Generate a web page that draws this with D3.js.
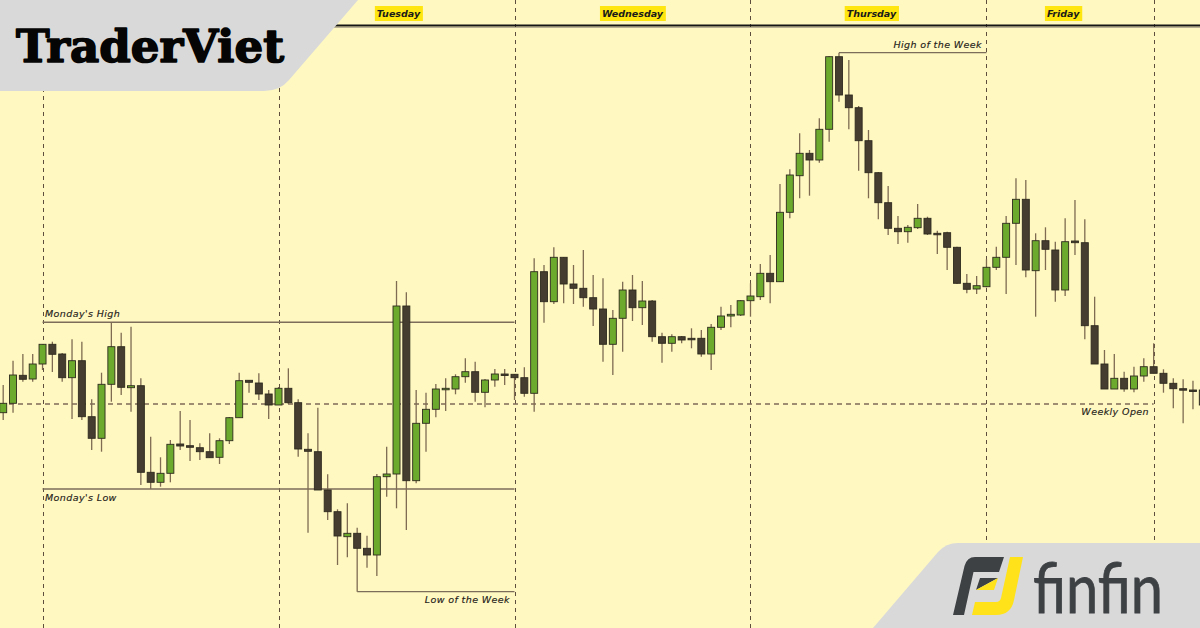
<!DOCTYPE html>
<html><head><meta charset="utf-8">
<script src="https://cdn.jsdelivr.net/npm/d3@7/dist/d3.min.js"></script>
<style>html,body{margin:0;padding:0;background:#FFF8C1;}svg{display:block;}</style>
</head><body>
<svg id="c" width="1200" height="628"></svg>
<script>
// Hourly candles (price in chart points)
const open  = [587.3,596.7,624.7,621,636,655.7,646,622.3,639.3,583.3,561.7,615.7,653.3,612.3,614.3,527.7,517.7,526.7,556,554.3,552.3,548.3,542.7,559.3,582.3,619.7,617,606,595,611.7,597.3,550.7,548.3,510,488.3,463.3,466.7,451.7,445,523.3,526,694,519.3,576.7,590.7,610.7,611,623.3,628.3,607.7,620,626,625.7,622.3,606.7,728.3,698.3,742.7,716,711.7,702.3,691,655.7,681.7,710,692.3,699,663.3,656.7,663.3,661.7,661.7,646,672.7,684,685,699.3,703.3,726.7,718.3,787.7,824.3,846.7,840,870.7,943.3,905,892.3,859.3,827.3,797.3,771.7,768.3,772.3,781.7,766.7,767.3,752.7,716.7,711,713.3,732.7,742.7,776.7,800.7,729.3,759.3,750,710,759,757.3,674.3,636,611,621.7,611,624,633.3,626.7,616.7,611.3,610,610];
const high  = [615,639.3,646,646,656,658.3,647,660.7,658.3,600.7,627.3,677.7,667.3,673.3,621.7,563.3,542.7,560,589,580,556.7,566.7,561.7,583,627.3,620,626.7,610,613,631.7,600.7,566.7,592.3,525.7,490.7,496.7,472.3,464.3,526,553.3,719,707.7,610,607.3,616,621.7,625.7,641.7,638.3,621,631,631,626,632.7,741.7,735,752.7,743,735,750,725,721.7,690,718.3,725,719,700,667.3,665.7,664,671.7,670,676,693.3,695,700,716.7,736,745,816,830.7,866.7,850,881.7,944,947.3,940,894,870,828,814,784,775,796,783.3,769.3,768.3,753.3,726,724,740.7,753.3,784,821.7,820,766.7,772.7,758.3,781.7,800,780.7,703.3,650,646,628.3,633.3,641.7,656.7,630.7,621.7,620.7,619.3,612];
const low   = [580,587.3,618.3,618.3,630,628,618.3,581,580,550,548.3,598.3,605,588.3,515,511,513.3,517.7,550,539,540,542.3,536,556,582,607.3,600,581,595,596,543.3,467.3,510,480,435,442.7,408.3,432.3,424,503.3,491.7,470,516.7,548.3,582.7,589,605.7,617.3,598.3,592.7,613.3,615,600,603.3,588.3,677.3,696,696.7,696,693.3,674,638.3,625,648.3,679,675,658.3,637.3,648.3,656.7,651.7,643.3,630,670,672.7,684,683.3,700,696.7,718,781.7,801.7,804.3,837.3,858.3,898.3,870.7,829.3,801.7,780.7,765,756,757.3,771,765,746,730,716,706.7,706,712.7,730,706,735,722.7,683.3,730,698.3,704,745,660.7,636,611,611,608.3,607.7,618.3,626.7,607.3,591.7,576.7,590.7,592];
const close = [596.7,625,620.7,636,655.7,645.7,622.3,639.3,583.3,561.7,615.7,653.3,612.7,614.3,527.7,517.7,526.7,555.7,554,552.7,548.3,542.3,559.3,582.3,619.3,617.7,606,595,611.7,597.3,551,548.7,510,488.3,464,466.7,451.7,445,523.3,526,694,519.3,576.7,590.7,611,611.7,623.3,628.3,607.7,620,626,625.3,622.3,606.7,728.3,698.3,742.7,716,711.7,702.3,691,655.7,681.7,710,692.3,699,663.3,656.7,663.3,660,660.7,646,672.7,684,685.7,699.3,704,726.7,718.3,787.7,825,846.7,840,870.7,943.3,905,892.3,859.3,827.3,797.3,771.7,768.3,772.7,781.7,766,766,752.7,716.7,710.7,714.3,732.7,742.7,776.7,800.7,730,759.3,750.7,710,758.3,757.3,674.3,636,611,621.7,611,624,633.3,626.7,616.7,611.3,610,609.7,595];

// Day separators (candle index of each day's first hour) and labels
const separatorIdx = [4, 28, 52, 76, 100, 117];
const dayLabels = ["Tuesday", "Wednesday", "Thursday", "Friday"];
const dayLabelIdx = [40.2, 64, 88.3, 107.8];

// Key levels
const mondayHigh = 677.7, mondayLow = 511, weeklyOpen = 596;
const weekHighIdx = 85, weekLowIdx = 36;

const W = 1200, H = 628;
const svg = d3.select("#c");
const x = d3.scaleLinear().domain([0, 122]).range([3.2, 1202.8]);
const y = d3.scaleLinear().domain([0, 1000]).range([1000, 0]);

const data = open.map((o, i) => ({i, o, h: high[i], l: low[i], c: close[i]}));

svg.append("rect").attr("width", W).attr("height", H).attr("fill", "#FFF8C1");

// separators
svg.append("g").selectAll("line").data(separatorIdx).join("line")
  .attr("x1", d => Math.round(x(d)) + 0.5).attr("x2", d => Math.round(x(d)) + 0.5)
  .attr("y1", 0).attr("y2", H)
  .attr("stroke", "#5E4E3E").attr("stroke-width", 1).attr("stroke-dasharray", "4,4");

// weekly open dashed
svg.append("line").attr("x1", 0).attr("x2", x(117)).attr("y1", y(weeklyOpen)).attr("y2", y(weeklyOpen))
  .attr("stroke", "#7F6A55").attr("stroke-width", 1.4).attr("stroke-dasharray", "5,4");

// Monday high / low lines
[mondayHigh, mondayLow].forEach(v => {
  svg.append("line").attr("x1", x(4)).attr("x2", x(52)).attr("y1", y(v)).attr("y2", y(v))
    .attr("stroke", "#7C6C5A").attr("stroke-width", 1.5);
});

// Week high / low brackets
svg.append("line").attr("x1", x(weekHighIdx)).attr("x2", x(100)).attr("y1", y(high[weekHighIdx])).attr("y2", y(high[weekHighIdx]))
  .attr("stroke", "#7C6C5A").attr("stroke-width", 1.3);
svg.append("line").attr("x1", x(weekLowIdx)).attr("x2", x(52)).attr("y1", y(low[weekLowIdx])).attr("y2", y(low[weekLowIdx]))
  .attr("stroke", "#7C6C5A").attr("stroke-width", 1.3);

// top line
svg.append("line").attr("x1", 320).attr("x2", W).attr("y1", 27.5).attr("y2", 27.5).attr("stroke", "#B9B096").attr("stroke-width", 1);
svg.append("line").attr("x1", 320).attr("x2", W).attr("y1", 25.5).attr("y2", 25.5).attr("stroke", "#151515").attr("stroke-width", 2);

// candles
const g = svg.append("g");
g.selectAll("line.w").data(data).join("line").attr("class", "w")
  .attr("x1", d => x(d.i)).attr("x2", d => x(d.i))
  .attr("y1", d => y(d.h)).attr("y2", d => y(d.l))
  .attr("stroke", "#7E6B52").attr("stroke-width", 1.3);
const bw = 7;
g.selectAll("rect.b").data(data).join("rect").attr("class", "b")
  .attr("x", d => x(d.i) - bw / 2)
  .attr("y", d => y(Math.max(d.o, d.c)))
  .attr("width", bw)
  .attr("height", d => Math.max(1.5, Math.abs(y(d.o) - y(d.c))))
  .attr("fill", d => d.c >= d.o ? "#6CAA2E" : "#463D31")
  .attr("stroke", "#2E2A1E").attr("stroke-width", 0.9);

// annotation texts
const ann = (t, xx, yy, anchor) => svg.append("text").attr("x", xx).attr("y", yy).attr("text-anchor", anchor)
  .attr("font-family", "DejaVu Sans, sans-serif").attr("font-style", "italic").attr("font-size", 9.5)
  .attr("letter-spacing", 0.4).attr("fill", "#1f1c19").attr("stroke", "#1f1c19").attr("stroke-width", 0.15).text(t);
ann("Monday's High", 45, 316.5, "start");
ann("Monday's Low", 45, 500.5, "start");
ann("Low of the Week", 510, 603, "end");
ann("High of the Week", 982, 47.5, "end");
ann("Weekly Open", 1149, 415, "end");

// day labels
dayLabels.forEach((name, k) => {
  const cx = x(dayLabelIdx[k]);
  const t = svg.append("text").attr("x", cx).attr("y", 17).attr("text-anchor", "middle")
    .attr("font-family", "DejaVu Sans, sans-serif").attr("font-style", "italic").attr("font-weight", "bold")
    .attr("font-size", 9.5).attr("fill", "#1a1a1a").text(name);
  const bb = t.node().getBBox();
  svg.insert("rect", () => t.node()).attr("x", bb.x - 2).attr("y", 6).attr("width", bb.width + 4).attr("height", 15)
    .attr("fill", "#FFE60F");
});

// top-left banner
svg.append("path").attr("d", "M0,0 L358,0 L289,80 Q280,91 264,91 L0,91 Z").attr("fill", "#D9D9D9");
svg.append("text").attr("x", 16).attr("y", 61.5)
  .attr("font-family", "DejaVu Serif, serif").attr("font-weight", "bold").attr("font-size", 44)
  .attr("textLength", 268).attr("lengthAdjust", "spacingAndGlyphs").attr("fill", "#050505")
  .attr("stroke", "#050505").attr("stroke-width", 1.6).attr("stroke-linejoin", "round").text("TraderViet");

// bottom-right banner
svg.append("path").attr("d", "M1200,543 L958,543 Q946,543 938,552 L873,628 L1200,628 Z").attr("fill", "#D9D9D9");
svg.append("path").attr("d", "M975,557 L1004,557 L999,572 L973.5,572 L964,615 L953,615 L964.5,566 Q967,557 975,557 Z").attr("fill", "#3E4144");
svg.append("path").attr("d", "M980,578 L998,578 L976,590 Z").attr("fill", "#3E4144");
svg.append("path").attr("d", "M998,578 L994,590 L976,590 Z").attr("fill", "#FFE21A");
svg.append("path").attr("d", "M1010,557 L1023,557 L1014,600 Q1011,615 996,615 L972,615 L975,602 L996,602 Q1000,602 1001,598 Z").attr("fill", "#FFE21A");
svg.append("text").attr("x", 1033).attr("y", 612.5)
  .attr("font-family", "Lato, sans-serif").attr("font-weight", 400).attr("font-size", 70)
  .attr("textLength", 130).attr("lengthAdjust", "spacingAndGlyphs").attr("fill", "#3E4144")
  .attr("stroke", "#3E4144").attr("stroke-width", 0.8).text("finfin");
</script>
</body></html>
